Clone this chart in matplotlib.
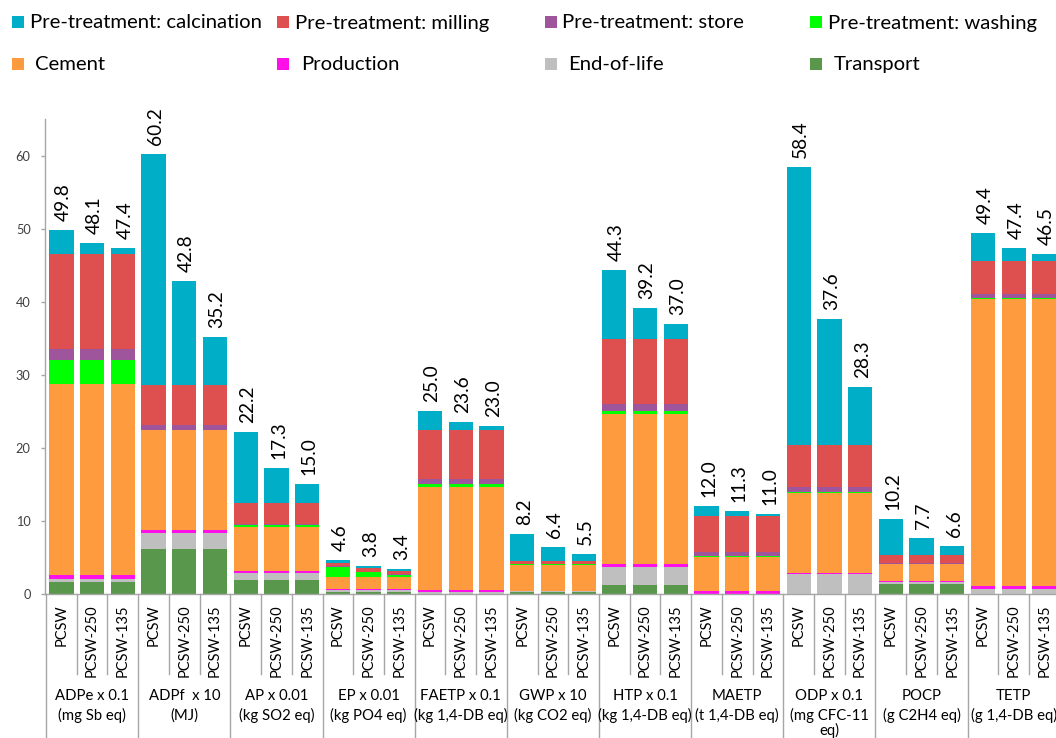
import matplotlib
matplotlib.use("Agg")
import matplotlib.pyplot as plt
import numpy as np
from matplotlib.patches import Rectangle

plt.rcParams['font.family'] = ['Lato', 'DejaVu Sans']

# ---------------- data ----------------
group_labels = [
    ["ADPe x 0.1", "(mg Sb eq)"],
    ["ADPf  x 10", "(MJ)"],
    ["AP x 0.01", "(kg SO2 eq)"],
    ["EP x 0.01", "(kg PO4 eq)"],
    ["FAETP x 0.1", "(kg 1,4-DB eq)"],
    ["GWP x 10", "(kg CO2 eq)"],
    ["HTP x 0.1", "(kg 1,4-DB eq)"],
    ["MAETP", "(t 1,4-DB eq)"],
    ["ODP x 0.1", "(mg CFC-11", "eq)"],
    ["POCP", "(g C2H4 eq)"],
    ["TETP", "(g 1,4-DB eq)"],
]
scenarios = ["PCSW", "PCSW-250", "PCSW-135"]

transport = [1.7, 1.7, 1.7, 6.1, 6.1, 6.1, 1.9, 1.9, 1.9, 0.3, 0.3, 0.3,
             0.05, 0.05, 0.05, 0.3, 0.3, 0.3, 1.3, 1.3, 1.3, 0.0, 0.0, 0.0,
             0.0, 0.0, 0.0, 1.4, 1.4, 1.4, 0.0, 0.0, 0.0]
end_of_life = [0.3, 0.3, 0.3, 2.3, 2.3, 2.3, 1.0, 1.0, 1.0, 0.2, 0.2, 0.2,
               0.2, 0.2, 0.2, 0.05, 0.05, 0.05, 2.35, 2.35, 2.35, 0.05, 0.05, 0.05,
               2.7, 2.7, 2.7, 0.3, 0.3, 0.3, 0.7, 0.7, 0.7]
production = [0.6, 0.6, 0.6, 0.3, 0.3, 0.3, 0.3, 0.3, 0.3, 0.15, 0.15, 0.15,
              0.35, 0.35, 0.35, 0.05, 0.05, 0.05, 0.45, 0.45, 0.45, 0.35, 0.35, 0.35,
              0.2, 0.2, 0.2, 0.05, 0.05, 0.05, 0.35, 0.35, 0.35]
cement = [26.2, 26.2, 26.2, 13.7, 13.7, 13.7, 6.0, 6.0, 6.0, 1.65, 1.65, 1.65,
          14.0, 14.0, 14.0, 3.6, 3.6, 3.6, 20.6, 20.6, 20.6, 4.6, 4.6, 4.6,
          10.9, 10.9, 10.9, 2.35, 2.35, 2.35, 39.35, 39.35, 39.35]
washing = [3.2, 3.2, 3.2, 0.1, 0.1, 0.1, 0.2, 0.2, 0.2, 1.4, 0.65, 0.35,
           0.5, 0.5, 0.5, 0.05, 0.05, 0.05, 0.3, 0.3, 0.3, 0.2, 0.2, 0.2,
           0.1, 0.1, 0.1, 0.05, 0.05, 0.05, 0.1, 0.1, 0.1]
store = [1.5, 1.5, 1.5, 0.6, 0.6, 0.6, 0.2, 0.2, 0.2, 0.1, 0.05, 0.05,
         0.6, 0.6, 0.6, 0.05, 0.05, 0.05, 1.0, 1.0, 1.0, 0.5, 0.5, 0.5,
         0.7, 0.7, 0.7, 0.1, 0.1, 0.1, 0.5, 0.5, 0.5]
milling = [13.1, 13.1, 13.1, 5.5, 5.5, 5.5, 2.9, 2.9, 2.9, 0.5, 0.6, 0.5,
           6.7, 6.7, 6.7, 0.4, 0.4, 0.4, 8.9, 8.9, 8.9, 5.0, 5.0, 5.0,
           5.8, 5.8, 5.8, 1.15, 1.15, 1.15, 4.6, 4.6, 4.6]
calcination = [3.2, 1.5, 0.8, 31.6, 14.2, 6.6, 9.7, 4.8, 2.5, 0.3, 0.2, 0.2,
               2.6, 1.2, 0.6, 3.7, 1.9, 1.0, 9.4, 4.3, 2.1, 1.3, 0.6, 0.3,
               38.0, 17.2, 7.9, 4.8, 2.3, 1.2, 3.8, 1.8, 0.9]

# stacking order bottom -> top
stack_names = ["Transport", "End-of-life", "Production", "Cement",
               "Pre-treatment: washing", "Pre-treatment: store",
               "Pre-treatment: milling", "Pre-treatment: calcination"]
stack_values = [transport, end_of_life, production, cement,
                washing, store, milling, calcination]
colors = {
    "Pre-treatment: calcination": "#00AEC7",
    "Pre-treatment: milling": "#DE5050",
    "Pre-treatment: store": "#9E559C",
    "Pre-treatment: washing": "#00FF00",
    "Cement": "#FF9B3F",
    "Production": "#FF10E8",
    "End-of-life": "#BFBFBF",
    "Transport": "#58974C",
}
legend_rows = [["Pre-treatment: calcination", "Pre-treatment: milling",
                "Pre-treatment: store", "Pre-treatment: washing"],
               ["Cement", "Production", "End-of-life", "Transport"]]

# ---------------- figure ----------------
W, H = 1056, 738
fig = plt.figure(figsize=(W / 100, H / 100), dpi=100)

slot = 30.72
left_px = 44.5
xmin, xmax = -0.55, 32.5
width_px = (xmax - xmin) * slot
base_px = 594
ymax = 65
yscale = 7.305
ax = fig.add_axes([left_px / W, (H - base_px) / H, width_px / W, ymax * yscale / H])

n = len(calcination)
x = np.arange(n)
bottom = np.zeros(n)
for name, vals in zip(stack_names, stack_values):
    v = np.array(vals, dtype=float)
    ax.bar(x, v, bottom=bottom, width=0.79, color=colors[name], linewidth=0)
    bottom += v

for xi, tot in zip(x, bottom):
    ax.annotate(f"{tot:.1f}", (xi, tot), xytext=(1.5, 6.5), textcoords="offset points",
                rotation=90, ha="center", va="bottom", fontsize=13.8, color="#000000")

ax.set_xlim(xmin, xmax)
ax.set_ylim(0, ymax)
ax.set_yticks(np.arange(0, 61, 10))
ax.set_xticks([])
for s in ["top", "right"]:
    ax.spines[s].set_visible(False)
for s in ["left", "bottom"]:
    ax.spines[s].set_color("#A6A6A6")
    ax.spines[s].set_linewidth(1)
ax.tick_params(axis="y", direction="out", length=3, width=1, color="#A6A6A6",
               labelsize=9.2, pad=7, labelcolor="#404040")

# ---------------- category label area ----------------
lab = fig.add_axes([left_px / W, 0, width_px / W, (H - base_px) / H], sharex=ax)
lab.set_ylim(0, H - base_px)
lab.axis("off")
top = H - base_px
for k in range(n + 1):
    xb = k - 0.5
    if k % 3 == 0:
        lab.plot([xb, xb], [0, top], color="#A6A6A6", lw=1, clip_on=False)
    else:
        lab.plot([xb, xb], [top - 80, top], color="#A6A6A6", lw=1, clip_on=False)
for i in range(n):
    lab.text(i, top - 10, scenarios[i % 3], rotation=90, ha="center", va="top",
             fontsize=10.5, color="#000000", clip_on=False)
line_y = [42.5, 22.5, 7.5]
for g, lines in enumerate(group_labels):
    cx = g * 3 + 1
    for j, t in enumerate(lines):
        lab.text(cx, line_y[j], t, ha="center", va="center", fontsize=10.7,
                 color="#000000", clip_on=False)

# ---------------- legend ----------------
marker_x = [11.7, 277.3, 544.7, 810.0]
text_dx = [[18.3, 18.0, 17.3, 18.0], [23.3, 23.7, 23.3, 24.0]]
row_center = [22.0, 63.5]
row_base = [28.5, 70.0]
for r, row in enumerate(legend_rows):
    for c, name in enumerate(row):
        mx = marker_x[c]
        fig.add_artist(Rectangle((mx / W, 1 - (row_center[r] + 6) / H), 12 / W, 12 / H,
                                 transform=fig.transFigure, color=colors[name], lw=0))
        fig.text((mx + text_dx[r][c]) / W, 1 - row_base[r] / H, name,
                 ha="left", va="baseline", fontsize=14.6, color="#000000")

fig.savefig("out.png", dpi=100)
